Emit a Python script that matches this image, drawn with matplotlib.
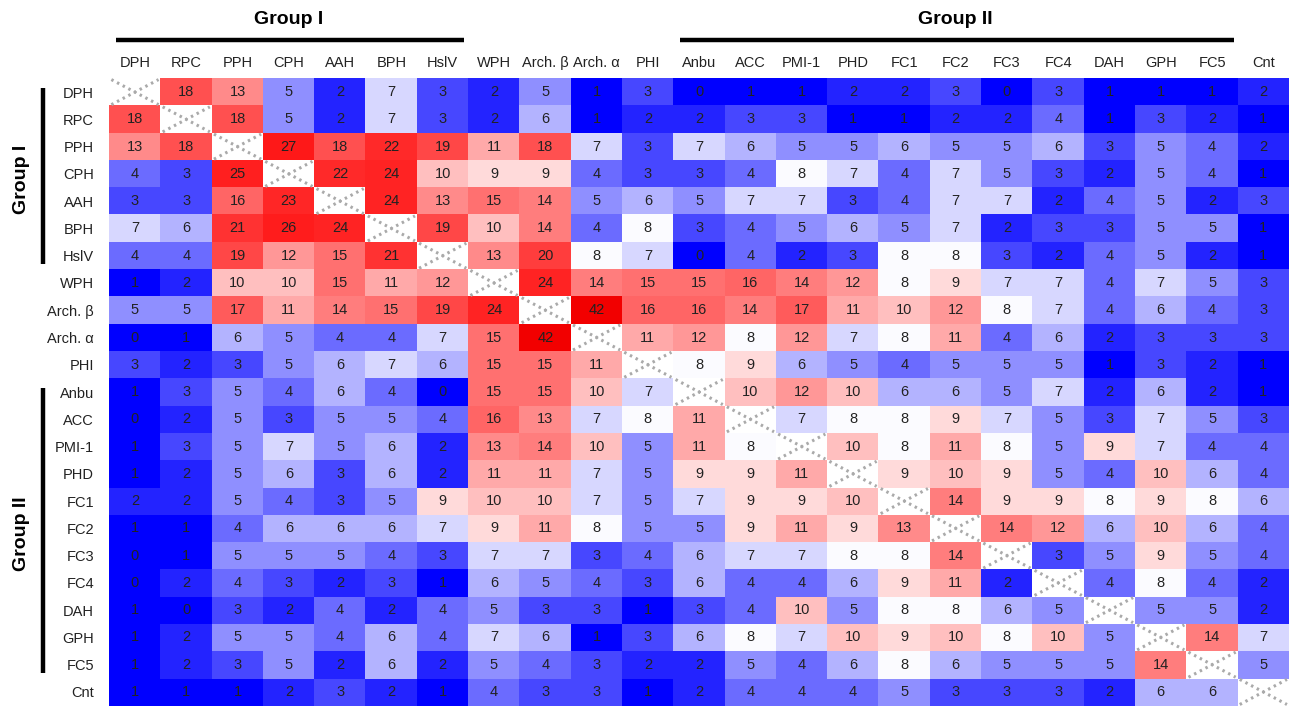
import numpy as np
import matplotlib
matplotlib.use('Agg')
from matplotlib import pyplot as plt
from matplotlib.colors import LinearSegmentedColormap, Normalize

# protein labels (same order for rows and columns)
labels = ['DPH', 'RPC', 'PPH', 'CPH', 'AAH', 'BPH', 'HslV', 'WPH', 'Arch. β',
          'Arch. α', 'PHI', 'Anbu', 'ACC', 'PMI-1', 'PHD', 'FC1', 'FC2', 'FC3',
          'FC4', 'DAH', 'GPH', 'FC5', 'Cnt']

# pairwise counts, diagonal left empty (None)
counts = [
    [None, 18, 13, 5, 2, 7, 3, 2, 5, 1, 3, 0, 1, 1, 2, 2, 3, 0, 3, 1, 1, 1, 2],
    [18, None, 18, 5, 2, 7, 3, 2, 6, 1, 2, 2, 3, 3, 1, 1, 2, 2, 4, 1, 3, 2, 1],
    [13, 18, None, 27, 18, 22, 19, 11, 18, 7, 3, 7, 6, 5, 5, 6, 5, 5, 6, 3, 5, 4, 2],
    [4, 3, 25, None, 22, 24, 10, 9, 9, 4, 3, 3, 4, 8, 7, 4, 7, 5, 3, 2, 5, 4, 1],
    [3, 3, 16, 23, None, 24, 13, 15, 14, 5, 6, 5, 7, 7, 3, 4, 7, 7, 2, 4, 5, 2, 3],
    [7, 6, 21, 26, 24, None, 19, 10, 14, 4, 8, 3, 4, 5, 6, 5, 7, 2, 3, 3, 5, 5, 1],
    [4, 4, 19, 12, 15, 21, None, 13, 20, 8, 7, 0, 4, 2, 3, 8, 8, 3, 2, 4, 5, 2, 1],
    [1, 2, 10, 10, 15, 11, 12, None, 24, 14, 15, 15, 16, 14, 12, 8, 9, 7, 7, 4, 7, 5, 3],
    [5, 5, 17, 11, 14, 15, 19, 24, None, 42, 16, 16, 14, 17, 11, 10, 12, 8, 7, 4, 6, 4, 3],
    [0, 1, 6, 5, 4, 4, 7, 15, 42, None, 11, 12, 8, 12, 7, 8, 11, 4, 6, 2, 3, 3, 3],
    [3, 2, 3, 5, 6, 7, 6, 15, 15, 11, None, 8, 9, 6, 5, 4, 5, 5, 5, 1, 3, 2, 1],
    [1, 3, 5, 4, 6, 4, 0, 15, 15, 10, 7, None, 10, 12, 10, 6, 6, 5, 7, 2, 6, 2, 1],
    [0, 2, 5, 3, 5, 5, 4, 16, 13, 7, 8, 11, None, 7, 8, 8, 9, 7, 5, 3, 7, 5, 3],
    [1, 3, 5, 7, 5, 6, 2, 13, 14, 10, 5, 11, 8, None, 10, 8, 11, 8, 5, 9, 7, 4, 4],
    [1, 2, 5, 6, 3, 6, 2, 11, 11, 7, 5, 9, 9, 11, None, 9, 10, 9, 5, 4, 10, 6, 4],
    [2, 2, 5, 4, 3, 5, 9, 10, 10, 7, 5, 7, 9, 9, 10, None, 14, 9, 9, 8, 9, 8, 6],
    [1, 1, 4, 6, 6, 6, 7, 9, 11, 8, 5, 5, 9, 11, 9, 13, None, 14, 12, 6, 10, 6, 4],
    [0, 1, 5, 5, 5, 4, 3, 7, 7, 3, 4, 6, 7, 7, 8, 8, 14, None, 3, 5, 9, 5, 4],
    [0, 2, 4, 3, 2, 3, 1, 6, 5, 4, 3, 6, 4, 4, 6, 9, 11, 2, None, 4, 8, 4, 2],
    [1, 0, 3, 2, 4, 2, 4, 5, 3, 3, 1, 3, 4, 10, 5, 8, 8, 6, 5, None, 5, 5, 2],
    [1, 2, 5, 5, 4, 6, 4, 7, 6, 1, 3, 6, 8, 7, 10, 9, 10, 8, 10, 5, None, 14, 7],
    [1, 2, 3, 5, 2, 6, 2, 5, 4, 3, 2, 2, 5, 4, 6, 8, 6, 5, 5, 5, 14, None, 5],
    [1, 1, 1, 2, 3, 2, 1, 4, 3, 3, 1, 2, 4, 4, 4, 5, 3, 3, 3, 2, 6, 6, None],
]

# groups: (name, first index, last index)
groups = [('Group I', 0, 6), ('Group II', 11, 21)]


def main():
    plt.rcParams['font.family'] = ['Liberation Sans', 'DejaVu Sans']

    mat = np.array([[np.nan if v is None else v for v in row] for row in counts],
                   dtype=float)
    n = len(labels)

    # blue -> white (8) -> red colour scale
    vmax = 42.
    nodes = [(0, (0, 0, 255)), (1, (0, 0, 255)), (8, (255, 255, 255)),
             (9, (255, 214, 214)), (10, (255, 188, 188)), (12, (255, 152, 152)),
             (15, (255, 112, 112)), (18, (255, 80, 80)), (22, (255, 42, 42)),
             (27, (255, 25, 25)), (42, (242, 0, 0))]
    cmap = LinearSegmentedColormap.from_list(
        'bwr_counts', [(v / vmax, tuple(c / 255. for c in col)) for v, col in nodes])
    cmap.set_bad('white')

    fig = plt.figure(figsize=(12.89, 7.07), dpi=100)
    ax = fig.add_axes([0.0848, 0.002, 0.9152, 0.887])
    ax.imshow(np.ma.masked_invalid(mat), cmap=cmap, norm=Normalize(0, vmax),
              aspect='auto', interpolation='nearest')

    # numbers and dotted crosses on the diagonal
    for i in range(n):
        for j in range(n):
            if np.isnan(mat[i, j]):
                d = 0.46
                for sgn in (1, -1):
                    ax.plot([j - d, j + d], [i - sgn * d, i + sgn * d],
                            color='#aaaaaa', lw=2.2, ls=(0, (0.8, 1.3)))
            else:
                ax.text(j, i, '%d' % mat[i, j], ha='center', va='center',
                        fontsize=10.5, color='#222222')

    ax.set_xlim(-0.5, n - 0.5)
    ax.set_ylim(n - 0.5, -0.5)
    ax.set_xticks(range(n))
    ax.set_xticklabels(labels, fontsize=10.5, color='#222222')
    ax.set_yticks(range(n))
    ax.set_yticklabels(labels, fontsize=10.5, color='#222222')
    ax.xaxis.tick_top()
    ax.tick_params(axis='x', length=0, pad=6)
    ax.tick_params(axis='y', length=0, pad=11)
    for s in ax.spines.values():
        s.set_visible(False)

    # group brackets
    for name, a, b in groups:
        ax.plot([a - 0.37, b + 0.42], [-1.91, -1.91], color='k', lw=3.2,
                clip_on=False, solid_capstyle='butt')
        ax.text((a + b) / 2., -2.68, name, ha='center', va='center',
                fontsize=14, fontweight='bold', clip_on=False)
        ax.plot([-1.79, -1.79], [a - 0.15, b + 0.3], color='k', lw=3.2,
                clip_on=False, solid_capstyle='butt')
        ax.text(-2.22, (a + b) / 2. + 0.2, name, ha='center', va='center',
                rotation=90, fontsize=14, fontweight='bold', clip_on=False)

    fig.savefig('out.png', dpi=100)


if __name__ == "__main__":
    main()
